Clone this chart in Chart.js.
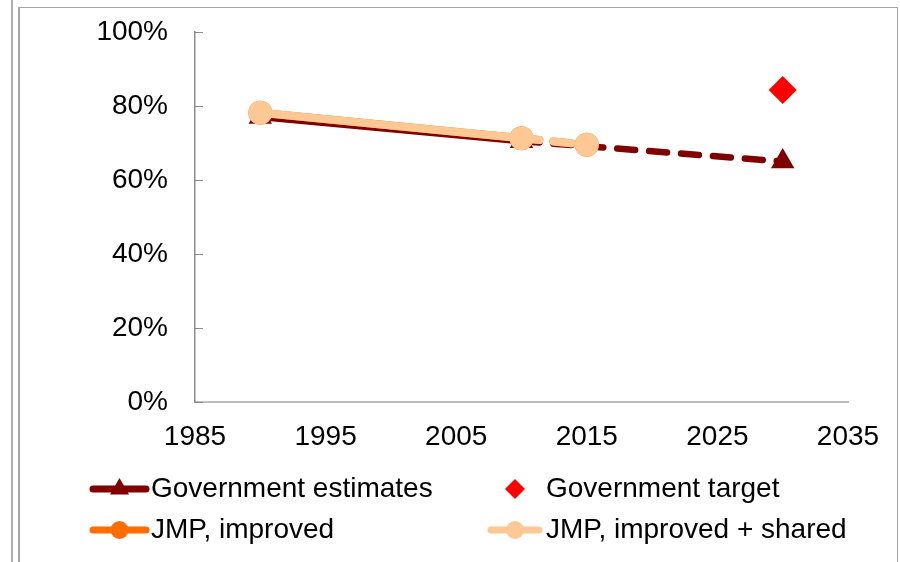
<!DOCTYPE html>
<html>
<head>
<meta charset="utf-8">
<script src="https://cdn.jsdelivr.net/npm/chart.js@4/dist/chart.umd.min.js"></script>
<style>
  html, body { margin: 0; padding: 0; background: #fff; }
  #wrap { position: relative; width: 900px; height: 562px; }
  #frame { position: absolute; left: 18px; top: 7px; width: 877px; height: 600px;
           border: 1px solid #a6a6a6; border-bottom: none; border-left-width: 2px; }
  #edge { position: absolute; left: 11px; top: 0; width: 2px; height: 562px; background: #b0b0b0; }
  canvas { position: absolute; left: 0; top: 0; }
</style>
</head>
<body>
<div id="wrap">
  <div id="edge"></div>
  <div id="frame"></div>
  <canvas id="line" width="900" height="562"></canvas>
</div>
<script>
// years and values (percent)
var govYears = [1990, 2010, 2030];
var govEstimates = [77, 70.5, 65];
var targetYears = [2030];
var govTarget = [84.3];
var jmpYears = [1990, 2010, 2015];
var jmpImproved = [78.2, 71.3, 69.5];
var jmpShared = [78.2, 71.3, 69.5];
var projectionFrom = 2010;   // segments after this year are dashed

function pts(xs, ys) {
    return xs.map(function (x, i) { return { x: x, y: ys[i] }; });
}

var dashAfter = function (ctx) {
    return ctx.p0.parsed.x >= projectionFrom ? [18, 14] : undefined;
};

var FONT = { family: 'Liberation Sans, Arial, sans-serif', size: 28 };

// legend laid out as a 2x2 grid like the original
var gridLegend = {
    id: 'gridLegend',
    afterDraw: function (chart) {
        var c = chart.ctx;
        var cells = [
            { ds: 0, x0: 89, x1: 150, tx: 151, y: 489 },
            { ds: 1, x0: 489, x1: 541, tx: 546, y: 489 },
            { ds: 2, x0: 89, x1: 150, tx: 151, y: 530 },
            { ds: 3, x0: 487, x1: 543, tx: 546, y: 530 }
        ];
        cells.forEach(function (cell) {
            var d = chart.data.datasets[cell.ds];
            c.save();
            if (d.showLine !== false) {
                c.strokeStyle = d.borderColor;
                c.lineWidth = 7;
                c.lineCap = 'round';
                c.beginPath();
                c.moveTo(cell.x0 + 4, cell.y);
                c.lineTo(cell.x1 - 4, cell.y);
                c.stroke();
            }
            c.fillStyle = d.pointBackgroundColor;
            c.strokeStyle = d.pointBackgroundColor;
            Chart.helpers.drawPoint(c, {
                pointStyle: d.pointStyle, radius: d.legendRadius, borderWidth: 0
            }, (cell.x0 + cell.x1) / 2, cell.y);
            c.fillStyle = '#000';
            c.font = FONT.size + 'px ' + FONT.family;
            c.textBaseline = 'middle';
            c.fillText(d.label, cell.tx, cell.y);
            c.restore();
        });
    }
};

// short tick marks on the inside of the y axis
var innerTicks = {
    id: 'innerTicks',
    afterDatasetsDraw: function (chart) {
        var y = chart.scales.y, c = chart.ctx;
        c.save();
        c.strokeStyle = '#8c8c8c';
        c.lineWidth = 1;
        y.ticks.forEach(function (t) {
            var py = Math.round(y.getPixelForValue(t.value)) + 0.5;
            c.beginPath();
            c.moveTo(y.right, py);
            c.lineTo(y.right + 8, py);
            c.stroke();
        });
        c.restore();
    }
};

var ctx = document.getElementById('line').getContext('2d');
var chart = new Chart(ctx, {
    type: 'line',
    data: {
        datasets: [{
            label: 'Government estimates',
            data: pts(govYears, govEstimates),
            borderColor: '#800000',
            backgroundColor: '#800000',
            pointBackgroundColor: '#800000',
            borderWidth: 6.5,
            borderCapStyle: 'round',
            pointStyle: 'triangle',
            pointRadius: 13.5,
            pointBorderWidth: 0,
            legendRadius: 11,
            segment: { borderDash: dashAfter },
            order: 3
        }, {
            label: 'Government target',
            data: pts(targetYears, govTarget),
            showLine: false,
            borderColor: '#ff0000',
            backgroundColor: '#ff0000',
            pointBackgroundColor: '#ff0000',
            pointStyle: 'rectRot',
            pointRadius: 14,
            pointBorderWidth: 0,
            legendRadius: 10,
            order: 0
        }, {
            label: 'JMP, improved',
            data: pts(jmpYears, jmpImproved),
            borderColor: '#ff6d00',
            backgroundColor: '#ff6d00',
            pointBackgroundColor: '#ff6d00',
            borderWidth: 8,
            borderCapStyle: 'round',
            pointStyle: 'circle',
            pointRadius: 12,
            pointBorderWidth: 0,
            legendRadius: 9,
            segment: { borderDash: dashAfter },
            order: 2
        }, {
            label: 'JMP, improved + shared',
            data: pts(jmpYears, jmpShared),
            borderColor: '#fdc894',
            backgroundColor: '#fdc894',
            pointBackgroundColor: '#fdc894',
            borderWidth: 8,
            borderCapStyle: 'round',
            pointStyle: 'circle',
            pointRadius: 12,
            pointBorderWidth: 0,
            legendRadius: 9,
            segment: { borderDash: dashAfter },
            order: 1
        }]
    },
    options: {
        responsive: false,
        animation: false,
        layout: { padding: { top: 32, right: 52, left: 0, bottom: 0 } },
        plugins: {
            legend: { display: false },
            tooltip: { enabled: false }
        },
        scales: {
            x: {
                type: 'linear',
                min: 1985,
                max: 2035,
                ticks: { stepSize: 10, padding: 18, color: '#000', font: FONT,
                         callback: function (v) { return String(v); } },
                grid: { display: false, drawTicks: false },
                border: { color: '#bdbdbd', width: 2 },
                afterFit: function (s) { s.height = 160; s.paddingLeft = 0; s.paddingRight = 0; }
            },
            y: {
                min: 0,
                max: 100,
                ticks: { stepSize: 20, padding: 27, color: '#000', font: FONT,
                         callback: function (v) { return v + '%'; } },
                grid: { display: false, drawTicks: false },
                border: { color: '#8c8c8c', width: 1.5 },
                afterFit: function (s) { s.width = 195; s.paddingTop = 0; s.paddingBottom = 0; }
            }
        }
    },
    plugins: [innerTicks, gridLegend]
});
</script>
</body>
</html>
